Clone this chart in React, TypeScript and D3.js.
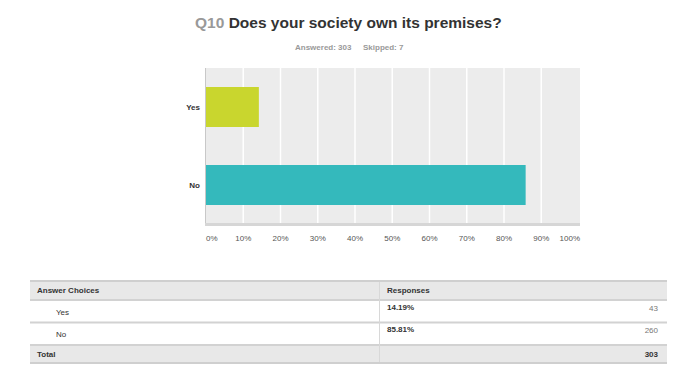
import React from "react";
import * as d3 from "d3";

const questionNo = "Q10";
const questionText = "Does your society own its premises?";
const answeredCount = 303;
const skippedCount = 7;
const categories = ["Yes", "No"];
const percents = [0.1419, 0.8581];
const counts = [43, 260];
const barColors = ["#c9d62e", "#34b9bc"];
const xTicks = [0, 0.1, 0.2, 0.3, 0.4, 0.5, 0.6, 0.7, 0.8, 0.9, 1.0];
const totalCount = 303;

const W = 699;
const H = 389;
const FONT = "'Liberation Sans', Arial, Helvetica, sans-serif";

export default function App() {
  const plotLeft = 205;
  const plotRight = 580;
  const plotTop = 68;
  const plotBottom = 223;
  const x = d3.scaleLinear().domain([0, 1]).range([206, 578.5]);
  const y = d3
    .scaleBand<string>()
    .domain(categories)
    .range([plotTop, plotBottom])
    .paddingInner(0.96)
    .paddingOuter(0.48);
  // custom: bar height 40, centers ~107 and ~185
  const yc = d3.scalePoint<string>().domain(categories).range([107, 185]);
  const barH = 40;

  const tableLeft = 30;
  const tableRight = 667;
  const colDiv = 379.5;
  const rowYs = [311.5, 333.5];

  return (
    <div style={{ position: "absolute", left: 0, top: 0 }}>
      <svg width={W} height={H} style={{ display: "block", fontFamily: FONT }}>
        <rect x={0} y={0} width={W} height={H} fill="#ffffff" />
        {/* Title */}
        <text x={195} y={28} fontSize={15.5} fontWeight="bold" fill="#333333">
          <tspan fill="#999999">{questionNo}</tspan>
          <tspan> {questionText}</tspan>
        </text>
        <text x={295} y={50} fontSize={8} fontWeight="bold" fill="#999999">
          {`Answered: ${answeredCount}`}
        </text>
        <text x={363} y={50} fontSize={8} fontWeight="bold" fill="#999999">
          {`Skipped: ${skippedCount}`}
        </text>

        {/* Plot background */}
        <rect x={plotLeft} y={plotTop} width={plotRight - plotLeft} height={plotBottom - plotTop} fill="#ececec" />
        {xTicks.slice(1, -1).map((t) => (
          <line key={t} x1={x(t)} x2={x(t)} y1={plotTop} y2={plotBottom} stroke="#ffffff" strokeWidth={1.5} />
        ))}
        {categories.map((c, i) => (
          <rect
            key={c}
            x={x(0)}
            y={(yc(c) as number) - barH / 2}
            width={x(percents[i]) - x(0)}
            height={barH}
            fill={barColors[i]}
          />
        ))}
        <line x1={plotLeft + 0.5} x2={plotLeft + 0.5} y1={plotTop} y2={plotBottom + 2} stroke="#c8c8c8" strokeWidth={1} />
        <line x1={plotLeft} x2={plotRight} y1={plotBottom + 1.5} y2={plotBottom + 1.5} stroke="#d6d6d6" strokeWidth={3} />
        {categories.map((c) => (
          <text key={c} x={200} y={(yc(c) as number) + 3} fontSize={8} fontWeight="bold" fill="#333333" textAnchor="end">
            {c}
          </text>
        ))}
        {xTicks.map((t, i) => {
          const anchor = i === 0 ? "start" : i === xTicks.length - 1 ? "end" : "middle";
          const tx = i === 0 ? 206 : i === xTicks.length - 1 ? 580 : x(t);
          return (
            <text key={t} x={tx} y={241} fontSize={8} fill="#555555" textAnchor={anchor}>
              {d3.format(".0%")(t)}
            </text>
          );
        })}

        {/* Table */}
        <rect x={tableLeft} y={282} width={tableRight - tableLeft} height={17} fill="#e8e8e8" />
        <rect x={tableLeft} y={346} width={tableRight - tableLeft} height={16} fill="#e8e8e8" />
        <rect x={tableLeft} y={280} width={tableRight - tableLeft} height={2} fill="#cfcfcf" />
        <rect x={tableLeft} y={299} width={tableRight - tableLeft} height={2} fill="#d2d2d2" />
        <rect x={tableLeft} y={321.5} width={tableRight - tableLeft} height={2} fill="#d2d2d2" />
        <rect x={tableLeft} y={344} width={tableRight - tableLeft} height={2} fill="#d2d2d2" />
        <rect x={tableLeft} y={362} width={tableRight - tableLeft} height={2} fill="#cfcfcf" />
        <line x1={colDiv} x2={colDiv} y1={282} y2={362} stroke="#d8d8d8" strokeWidth={1} />
        <text x={37} y={293} fontSize={8} fontWeight="bold" fill="#333333">Answer Choices</text>
        <text x={387} y={293} fontSize={8} fontWeight="bold" fill="#333333">Responses</text>
        {categories.map((c, i) => (
          <g key={c}>
            <text x={56} y={rowYs[i] + 3} fontSize={8} fill="#333333">{c}</text>
            <text x={387} y={rowYs[i] - 2} fontSize={8} fontWeight="bold" fill="#333333">
              {d3.format(".2%")(percents[i])}
            </text>
            <text x={658} y={rowYs[i] - 1} fontSize={8} fill="#777777" textAnchor="end">{counts[i]}</text>
          </g>
        ))}
        <text x={37} y={357} fontSize={8} fontWeight="bold" fill="#333333">Total</text>
        <text x={658} y={357} fontSize={8} fontWeight="bold" fill="#333333" textAnchor="end">{totalCount}</text>
      </svg>
    </div>
  );
}
